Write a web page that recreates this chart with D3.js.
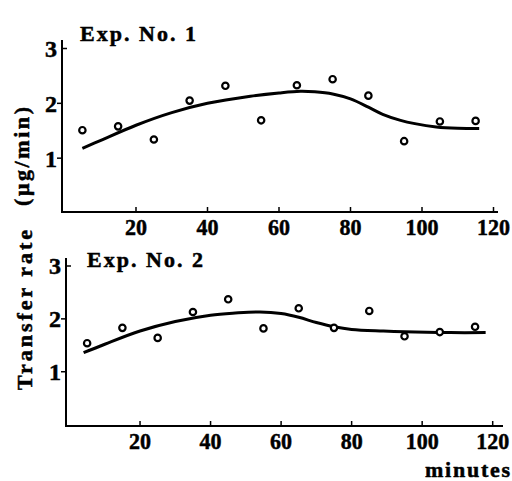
<!DOCTYPE html>
<html>
<head>
<meta charset="utf-8">
<script src="https://cdn.jsdelivr.net/npm/d3@7"></script>
<style>
  body { margin: 0; background: #fff; }
  svg { display: block; }
  text { font-family: "Liberation Serif", "Times New Roman", serif; font-weight: bold; fill: #000; stroke: #000; stroke-width: 0.5px; }
</style>
</head>
<body>
<div id="chart"></div>
<script>
// measured points (minutes, transfer rate in µg/min)
const minutes = [5, 15, 25, 35, 45, 55, 65, 75, 85, 95, 105, 115];
const exp1Rate = [1.51, 1.58, 1.34, 2.05, 2.32, 1.69, 2.33, 2.44, 2.14, 1.31, 1.67, 1.68];
const exp2Rate = [1.54, 1.83, 1.64, 2.13, 2.37, 1.82, 2.20, 1.83, 2.15, 1.67, 1.75, 1.85];

// fitted curves
const exp1FitX = [5, 10, 20, 30, 40, 52, 60, 66, 70, 75, 80, 85, 89, 94, 98, 104, 110, 116];
const exp1Fit  = [1.18, 1.32, 1.6, 1.83, 2.0, 2.13, 2.19, 2.22, 2.21, 2.17, 2.08, 1.93, 1.8, 1.69, 1.63, 1.57, 1.545, 1.54];
const exp2FitX = [4, 10, 20, 30, 40, 47, 54, 60, 65, 70, 75, 80, 89, 98, 108, 118];
const exp2Fit  = [1.36, 1.52, 1.77, 1.95, 2.07, 2.11, 2.13, 2.1, 2.03, 1.93, 1.85, 1.80, 1.77, 1.75, 1.74, 1.74];

const xTicks = [20, 40, 60, 80, 100, 120];
const yTicks = [1, 2, 3];
const titles = ["Exp. No. 1", "Exp. No. 2"];

const width = 512, height = 481;

const svg = d3.select("#chart").append("svg")
    .attr("width", width)
    .attr("height", height);

// panel geometry (the two panels in the print are not quite aligned)
const panels = [
    { title: titles[0], rate: exp1Rate, fitX: exp1FitX, fit: exp1Fit,
      xr: [64.5, 493.5], yr: [213, 48.5], axisLeft: 62, axisRight: 498, axisTop: 40, axisBottom: 212,
      titleX: 80, titleY: 41 },
    { title: titles[1], rate: exp2Rate, fitX: exp2FitX, fit: exp2Fit,
      xr: [69.5, 492.7], yr: [424.6, 266], axisLeft: 66, axisRight: 503, axisTop: 258, axisBottom: 426,
      titleX: 87, titleY: 267 }
];

panels.forEach(p => {
    const x = d3.scaleLinear().domain([0, 120]).range(p.xr);
    const y = d3.scaleLinear().domain([0, 3]).range(p.yr);
    const g = svg.append("g");

    // axes lines
    g.append("line")
        .attr("x1", p.axisLeft).attr("x2", p.axisLeft)
        .attr("y1", p.axisTop).attr("y2", p.axisBottom)
        .attr("stroke", "#000").attr("stroke-width", 2);
    g.append("line")
        .attr("x1", p.axisLeft - 1).attr("x2", p.axisRight)
        .attr("y1", p.axisBottom).attr("y2", p.axisBottom)
        .attr("stroke", "#000").attr("stroke-width", 2);

    // x ticks point up into the plot
    xTicks.forEach(t => {
        g.append("line")
            .attr("x1", x(t)).attr("x2", x(t))
            .attr("y1", p.axisBottom).attr("y2", p.axisBottom - 5)
            .attr("stroke", "#000").attr("stroke-width", 1.5);
        g.append("text")
            .attr("x", x(t)).attr("y", p.axisBottom + 23)
            .attr("text-anchor", "middle")
            .attr("font-size", 24)
            .attr("textLength", String(t).length * 11).attr("lengthAdjust", "spacingAndGlyphs")
            .text(t);
    });

    // y ticks
    yTicks.forEach(t => {
        const inward = t === 3;
        g.append("line")
            .attr("x1", p.axisLeft).attr("x2", inward ? p.axisLeft + 5 : p.axisLeft - 5)
            .attr("y1", y(t)).attr("y2", y(t))
            .attr("stroke", "#000").attr("stroke-width", 1.5);
        g.append("text")
            .attr("x", p.axisLeft - 5).attr("y", y(t))
            .attr("dy", "0.35em")
            .attr("text-anchor", "end")
            .attr("font-size", 24)
            .text(t);
    });

    // fitted curve
    const line = d3.line()
        .x(d => x(d[0]))
        .y(d => y(d[1]))
        .curve(d3.curveCatmullRom.alpha(0.5));
    g.append("path")
        .attr("d", line(p.fitX.map((v, i) => [v, p.fit[i]])))
        .attr("fill", "none")
        .attr("stroke", "#000")
        .attr("stroke-width", 3);

    // measured points
    g.selectAll("circle")
        .data(minutes.map((m, i) => [m, p.rate[i]]))
        .join("circle")
        .attr("cx", d => x(d[0]))
        .attr("cy", d => y(d[1]))
        .attr("r", 3.2)
        .attr("fill", "#fff")
        .attr("stroke", "#000")
        .attr("stroke-width", 2.2);

    // panel title
    g.append("text")
        .attr("x", p.titleX).attr("y", p.titleY)
        .attr("font-size", 22)
        .attr("textLength", 116).attr("lengthAdjust", "spacing")
        .text(p.title);
});

// y axis label, rotated
svg.append("text")
    .attr("transform", "translate(32,390) rotate(-90)")
    .attr("font-size", 22)
    .attr("textLength", 160).attr("lengthAdjust", "spacing")
    .text("Transfer rate");
svg.append("text")
    .attr("transform", "translate(29,206) rotate(-90)")
    .attr("font-size", 22)
    .attr("textLength", 99).attr("lengthAdjust", "spacing")
    .text("(μg/min)");

// x axis label
svg.append("text")
    .attr("x", 425).attr("y", 477)
    .attr("font-size", 22)
    .attr("textLength", 85).attr("lengthAdjust", "spacing")
    .text("minutes");
</script>
</body>
</html>
